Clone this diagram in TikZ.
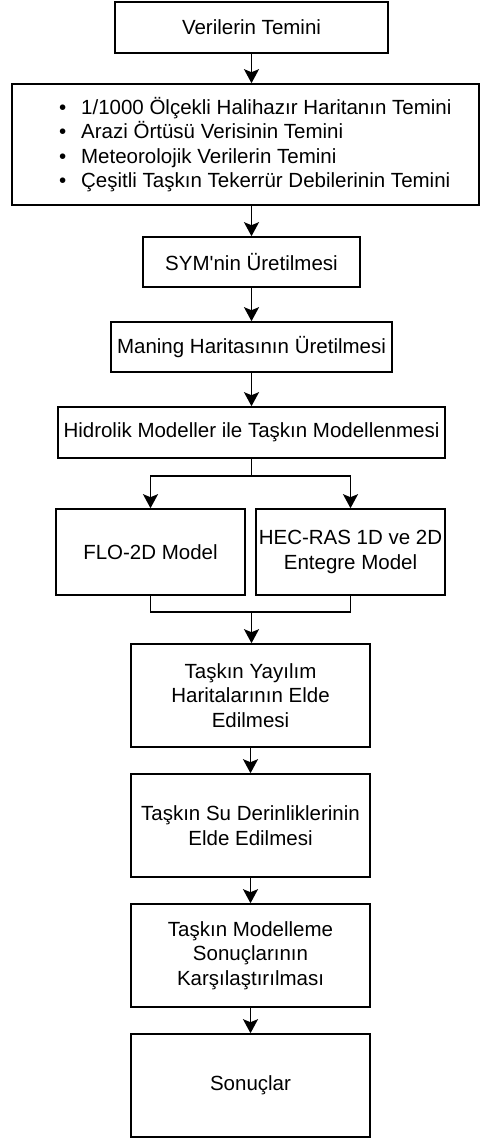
\documentclass[tikz,border=0pt]{standalone}
\usepackage{fontspec}
\setmainfont{Liberation Sans}
\usetikzlibrary{arrows.meta}

\begin{document}
\begin{tikzpicture}[x=1pt,y=-1pt,
    box/.style={draw,line width=1.6pt,inner sep=0pt,align=center,
        font=\fontsize{20.5}{24.5}\selectfont},
    arr/.style={line width=1.6pt,-{Stealth[length=14pt,width=15pt,inset=3pt]}}]
    \useasboundingbox (0,0) rectangle (480,1139);

    % Boxes
    \node[box,minimum width=273pt,minimum height=51pt] (veri) at (251.5,27.5) {Verilerin Temini};
    \node[box,minimum width=467pt,minimum height=121pt] (temin) at (245.5,144.5)
        {\hspace{25pt}\parbox{398pt}{\raggedright
        \textbullet\hspace{15pt}1/1000 Ölçekli Halihazır Haritanın Temini\\
        \textbullet\hspace{15pt}Arazi Örtüsü Verisinin Temini\\
        \textbullet\hspace{15pt}Meteorolojik Verilerin Temini\\
        \textbullet\hspace{15pt}Çeşitli Taşkın Tekerrür Debilerinin Temini}};
    \node[box,minimum width=217pt,minimum height=50pt] (sym) at (251.5,262) {SYM\textquotesingle nin Üretilmesi};
    \node[box,minimum width=281pt,minimum height=50pt] (maning) at (251.5,347) {Maning Haritasının Üretilmesi};
    \node[box,minimum width=387pt,minimum height=51pt] (hidro) at (251.5,432.5) {Hidrolik Modeller ile Taşkın Modellenmesi};
    \node[box,minimum width=189pt,minimum height=86pt] (flo) at (150.5,552) {FLO-2D Model};
    \node[box,minimum width=189pt,minimum height=86pt] (hec) at (350.5,552) {HEC-RAS 1D ve 2D\\Entegre Model};
    \node[box,minimum width=239pt,minimum height=103pt] (yayilim) at (250.5,695.5) {Taşkın Yayılım\\Haritalarının Elde\\Edilmesi};
    \node[box,minimum width=239pt,minimum height=103pt] (derin) at (250.5,825.5) {Taşkın Su Derinliklerinin\\Elde Edilmesi};
    \node[box,minimum width=239pt,minimum height=103pt] (karsi) at (250.5,955.5) {Taşkın Modelleme\\Sonuçlarının\\Karşılaştırılması};
    \node[box,minimum width=239pt,minimum height=103pt] (sonuc) at (250.5,1085.5) {Sonuçlar};

    % Arrows
    \draw[arr] (veri.south) -- (veri.south |- temin.north);
    \draw[arr] (temin.south -| veri.south) -- (sym.north);
    \draw[arr] (sym) -- (maning);
    \draw[arr] (maning) -- (hidro);

    % Split and merge
    \coordinate (split) at (251.5,476);
    \coordinate (merge) at (251.5,612);
    \draw[line width=1.6pt] (hidro) -- (split);
    \draw[arr] (split) -| (flo.north);
    \draw[arr] (split) -| (hec.north);
    \draw[line width=1.6pt] (flo.south) -- (flo.south |- merge) -- (hec.south |- merge) -- (hec.south);
    \draw[arr] (merge) -- (yayilim.north -| merge);

    \draw[arr] (yayilim) -- (derin);
    \draw[arr] (derin) -- (karsi);
    \draw[arr] (karsi) -- (sonuc);
\end{tikzpicture}
\end{document}
